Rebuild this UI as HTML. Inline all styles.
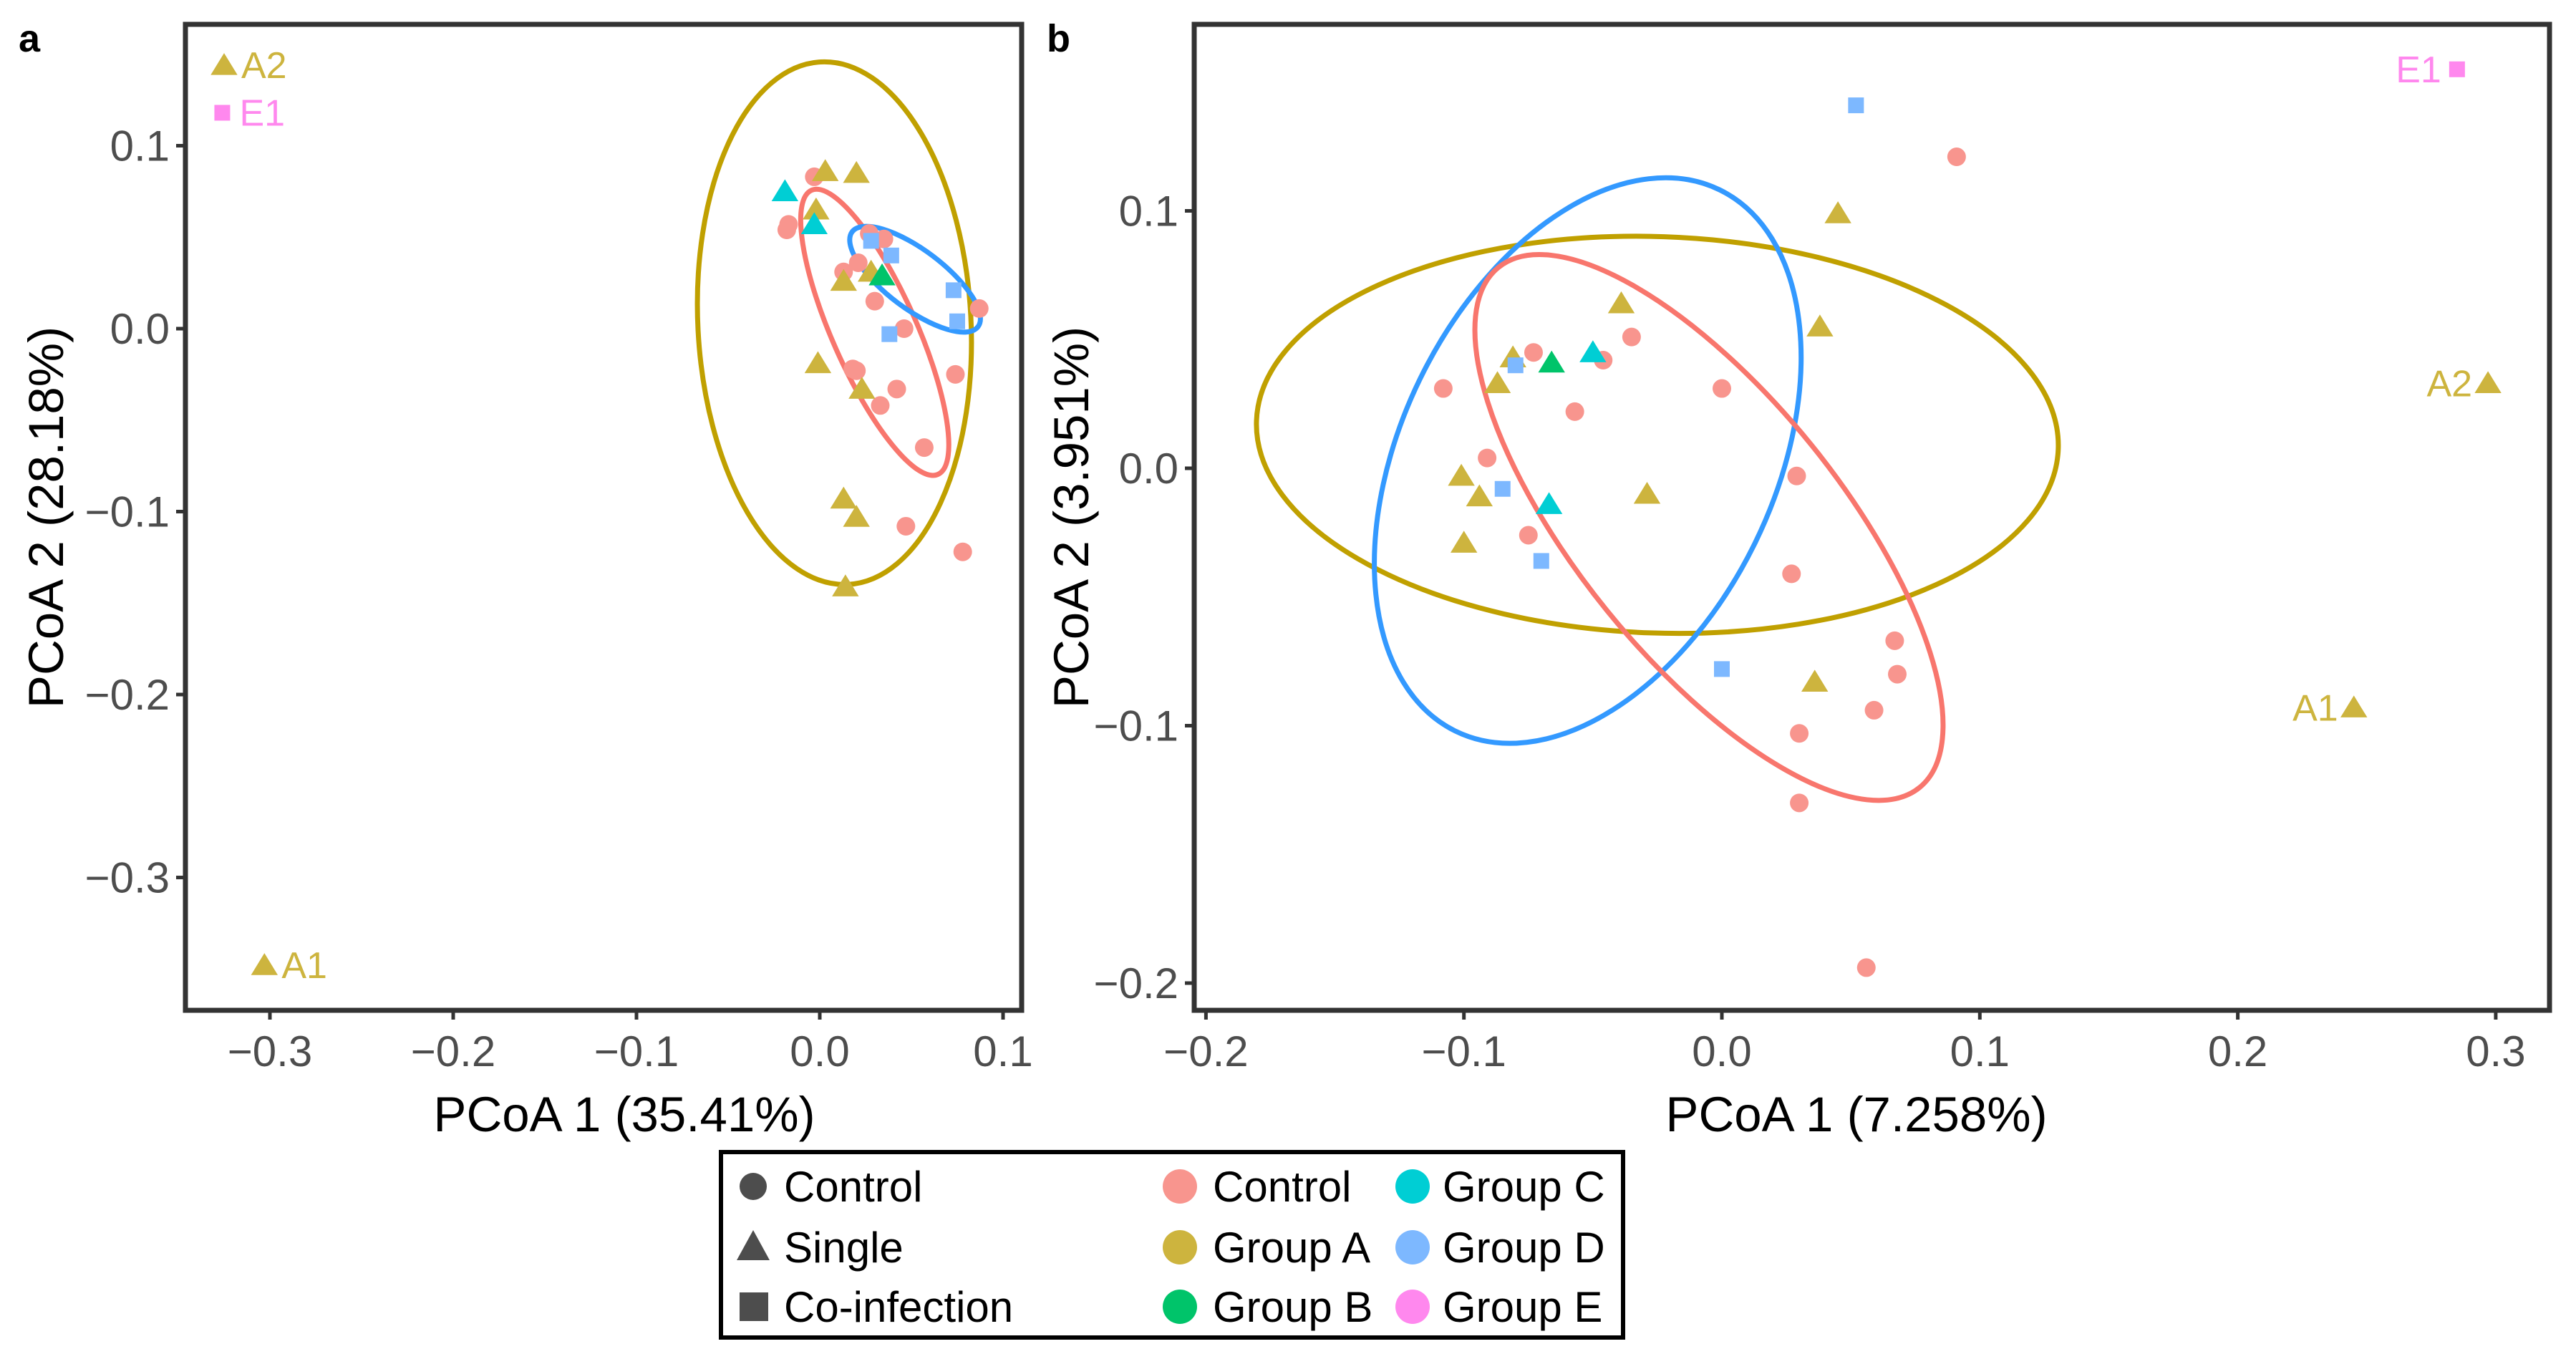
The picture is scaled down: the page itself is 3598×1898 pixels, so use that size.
<!DOCTYPE html>
<html><head><meta charset="utf-8"><style>
html,body{margin:0;padding:0;background:#fff;}
svg{display:block;font-family:"Liberation Sans",Arial,sans-serif;}
</style></head><body>
<svg id="fig" width="3598" height="1898" viewBox="0 0 3598 1898" xmlns="http://www.w3.org/2000/svg">
<g id="pa"></g>
<g id="pb"></g>
<g id="legend"></g>
</svg>
<script>
// Panel a data
const aCtrlX=[-0.003,-0.017,-0.018,0.013,0.035,0.021,0.030,0.046,0.020,0.018,0.033,0.042,0.057,0.074,0.087,0.047,0.078,0.027];
const aCtrlY=[0.083,0.057,0.054,0.031,0.049,0.036,0.015,0.000,-0.023,-0.022,-0.042,-0.033,-0.065,-0.025,0.011,-0.108,-0.122,0.052];
const aAX=[0.003,0.020,-0.002,0.013,0.028,-0.001,0.023,0.013,0.020,0.014,-0.325,-0.303];
const aAY=[0.086,0.085,0.065,0.026,0.031,-0.019,-0.033,-0.093,-0.103,-0.141,0.144,-0.348];
const aBX=[0.034]; const aBY=[0.029];
const aCX=[-0.019,-0.003]; const aCY=[0.075,0.057];
const aDX=[0.028,0.039,0.073,0.075,0.038]; const aDY=[0.048,0.040,0.021,0.004,-0.003];
const aEX=[-0.326]; const aEY=[0.118];
const aXTicks=[-0.3,-0.2,-0.1,0.0,0.1];
const aXTickLabels=["\u22120.3","\u22120.2","\u22120.1","0.0","0.1"];
const aYTicks=[0.1,0.0,-0.1,-0.2,-0.3];
const aYTickLabels=["0.1","0.0","\u22120.1","\u22120.2","\u22120.3"];
// Panel b data
const bCtrlX=[0.091,-0.108,-0.073,-0.046,-0.035,-0.057,0.000,-0.091,-0.075,0.029,0.027,0.067,0.068,0.059,0.030,0.030,0.056];
const bCtrlY=[0.121,0.031,0.045,0.042,0.051,0.022,0.031,0.004,-0.026,-0.003,-0.041,-0.067,-0.080,-0.094,-0.103,-0.130,-0.194];
const bAX=[0.045,-0.039,0.038,-0.081,-0.087,-0.101,-0.094,-0.100,-0.029,0.036,0.297,0.245];
const bAY=[0.099,0.064,0.055,0.043,0.033,-0.003,-0.011,-0.029,-0.010,-0.083,0.033,-0.093];
const bBX=[-0.066]; const bBY=[0.041];
const bCX=[-0.050,-0.067]; const bCY=[0.045,-0.014];
const bDX=[0.052,-0.080,-0.085,-0.070,0.000]; const bDY=[0.141,0.040,-0.008,-0.036,-0.078];
const bEX=[0.285]; const bEY=[0.155];
const bXTicks=[-0.2,-0.1,0.0,0.1,0.2,0.3];
const bXTickLabels=["\u22120.2","\u22120.1","0.0","0.1","0.2","0.3"];
const bYTicks=[0.1,0.0,-0.1,-0.2];
const bYTickLabels=["0.1","0.0","\u22120.1","\u22120.2"];

const NS="http://www.w3.org/2000/svg";
function mk(parent,tag,attrs,text){const e=document.createElementNS(NS,tag);for(const k in attrs)e.setAttribute(k,attrs[k]);if(text!==undefined)e.textContent=text;parent.appendChild(e);return e;}
const COL={ctrl:"#F8958E",A:"#CDB43E",B:"#00C46A",C:"#00CED4",D:"#7DB8FF",E:"#FF88EE"};

function circle(g,x,y,c){const e=mk(g,"circle",{cx:x,cy:y,r:13,fill:c});

}
function tri(g,x,y,c){const s=17;const e=mk(g,"polygon",{points:`${x},${y-s} ${x-s*1.1},${y+s*0.8} ${x+s*1.1},${y+s*0.8}`,fill:c});

}
function sq(g,x,y,c){const e=mk(g,"rect",{x:x-11,y:y-11,width:22,height:22,fill:c});

}

function panel(g,cfg){
  const sx=v=>cfg.x0+v*cfg.kx, sy=v=>cfg.y0-v*cfg.ky;
  cfg.ell.forEach(el=>{const cx=sx(el[0]),cy=sy(el[1]);
    const e=mk(g,"ellipse",{cx:cx,cy:cy,rx:el[2]*cfg.kx,ry:el[3]*cfg.ky,fill:"none",stroke:el[5],"stroke-width":7,transform:`rotate(${el[4]} ${cx} ${cy})`});
    
    });
  const pts=g.appendChild(document.createElementNS(NS,"g"));
  
  
  cfg.ctrlX.forEach((v,i)=>circle(pts,sx(v),sy(cfg.ctrlY[i]),COL.ctrl));
  cfg.AX.forEach((v,i)=>tri(pts,sx(v),sy(cfg.AY[i]),COL.A));
  cfg.CX.forEach((v,i)=>tri(pts,sx(v),sy(cfg.CY[i]),COL.C));
  cfg.BX.forEach((v,i)=>tri(pts,sx(v),sy(cfg.BY[i]),COL.B));
  cfg.DX.forEach((v,i)=>sq(pts,sx(v),sy(cfg.DY[i]),COL.D));
  cfg.EX.forEach((v,i)=>sq(pts,sx(v),sy(cfg.EY[i]),COL.E));
  cfg.labels.forEach(L=>{const t=mk(g,"text",{x:sx(L[1])+L[3],y:sy(L[2])+18,"font-size":52,fill:L[4],"text-anchor":L[3]>0?"start":"end"},L[0]);
    
    });
  const f=mk(g,"rect",{x:cfg.bx,y:cfg.by,width:cfg.bw,height:cfg.bh,fill:"none",stroke:"#333","stroke-width":7});
  
  
  const bot=cfg.by+cfg.bh;
  cfg.xt.forEach((v,i)=>{const x=sx(v);
    mk(g,"line",{x1:x,y1:bot,x2:x,y2:bot+13,stroke:"#333","stroke-width":5});
    const t=mk(g,"text",{x:x,y:bot+78,"font-size":60,fill:"#4D4D4D","text-anchor":"middle"},cfg.xtl[i]);
    
    });
  cfg.yt.forEach((v,i)=>{const y=sy(v);
    mk(g,"line",{x1:cfg.bx-13,y1:y,x2:cfg.bx,y2:y,stroke:"#333","stroke-width":5});
    const t=mk(g,"text",{x:cfg.bx-22,y:y+21,"font-size":60,fill:"#4D4D4D","text-anchor":"end"},cfg.ytl[i]);
    
    });
  const xt=mk(g,"text",{x:cfg.xtx,y:1580,"font-size":69,fill:"#000","text-anchor":"middle"},cfg.xtitle);
  
  
  const yt=mk(g,"text",{x:0,y:0,"font-size":69,fill:"#000","text-anchor":"middle",transform:`translate(${cfg.ytx} ${cfg.by+cfg.bh/2}) rotate(-90)`},cfg.ytitle);
  
  
  const pl=mk(g,"text",{x:cfg.lx,y:72,"font-size":54,"font-weight":"bold",fill:"#000"},cfg.letter);
  
  
}

panel(document.getElementById("pa"),{x0:1145,kx:2560,y0:459,ky:2555,bx:259,by:34,bw:1168,bh:1377,
  ctrlX:aCtrlX,ctrlY:aCtrlY,AX:aAX,AY:aAY,BX:aBX,BY:aBY,CX:aCX,CY:aCY,DX:aDX,DY:aDY,EX:aEX,EY:aEY,
  ell:[[0.008,0.003,0.0745,0.143,-3,"#C0A000"],[0.030,-0.002,0.023,0.085,-24,"#F8766D"],[0.052,0.027,0.043,0.016,37,"#3399FF"]],
  labels:[["A2",-0.325,0.144,24,"#CDB43E"],["E1",-0.326,0.118,24,"#FF88EE"],["A1",-0.303,-0.348,24,"#CDB43E"]],
  xt:aXTicks,xtl:aXTickLabels,yt:aYTicks,ytl:aYTickLabels,xtx:872,ytx:88,xtitle:"PCoA 1 (35.41%)",ytitle:"PCoA 2 (28.18%)",lx:26,letter:"a"});

panel(document.getElementById("pb"),{x0:2405,kx:3603,y0:654,ky:3595,bx:1668,by:34,bw:1893,bh:1377,
  ctrlX:bCtrlX,ctrlY:bCtrlY,AX:bAX,AY:bAY,BX:bBX,BY:bBY,CX:bCX,CY:bCY,DX:bDX,DY:bDY,EX:bEX,EY:bEY,
  ell:[[-0.025,0.013,0.1555,0.077,2,"#C0A000"],[-0.052,0.003,0.0723,0.117,26,"#3399FF"],[-0.005,-0.023,0.051,0.130,-39,"#F8766D"]],
  labels:[["E1",0.285,0.155,-22,"#FF88EE"],["A2",0.297,0.033,-22,"#CDB43E"],["A1",0.245,-0.093,-22,"#CDB43E"]],
  xt:bXTicks,xtl:bXTickLabels,yt:bYTicks,ytl:bYTickLabels,xtx:2593,ytx:1520,xtitle:"PCoA 1 (7.258%)",ytitle:"PCoA 2 (3.951%)",lx:1462,letter:"b"});

// Legend
const lg=document.getElementById("legend");
const lb=mk(lg,"rect",{x:1007,y:1609,width:1260,height:259,fill:"#fff",stroke:"#000","stroke-width":6});


const shapeNames=["Control","Single","Co-infection"];
const rows=[1657,1742,1825];
mk(lg,"circle",{cx:1052,cy:rows[0],r:19,fill:"#4D4D4D"});
mk(lg,"polygon",{points:`1052,${rows[1]-24} 1029,${rows[1]+18} 1075,${rows[1]+18}`,fill:"#4D4D4D"});
mk(lg,"rect",{x:1033,y:rows[2]-20,width:40,height:40,fill:"#4D4D4D"});
shapeNames.forEach((n,i)=>{const t=mk(lg,"text",{x:1095,y:rows[i]+21,"font-size":60,fill:"#000"},n);
  
  });
const groupNames=[["Control",COL.ctrl,1648,1694,0],["Group A",COL.A,1648,1694,1],["Group B",COL.B,1648,1694,2],
  ["Group C",COL.C,1973,2015,0],["Group D",COL.D,1973,2015,1],["Group E",COL.E,1973,2015,2]];
groupNames.forEach(g=>{const c=mk(lg,"circle",{cx:g[2],cy:rows[g[4]],r:24,fill:g[1]});
  
  
  const t=mk(lg,"text",{x:g[3],y:rows[g[4]]+21,"font-size":60,fill:"#000"},g[0]);
  
  });
</script>
</body></html>
